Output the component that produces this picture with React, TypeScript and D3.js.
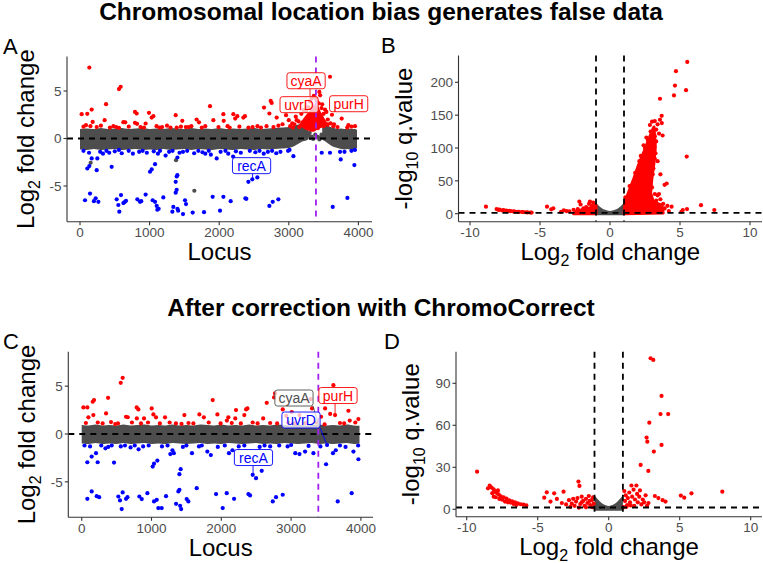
import React from "react";
import * as d3 from "d3";

// ---------------- DATA ----------------
// Panel A (before correction): locus vs log2 fold change
const bandALocus = [0, 100, 200, 300, 400, 500, 600, 700, 800, 900, 1000, 1100, 1200, 1300, 1400, 1500, 1600, 1700, 1800, 1900, 2000, 2100, 2200, 2300, 2400, 2500, 2600, 2700, 2800, 2900, 3000, 3050, 3100, 3150, 3200, 3250, 3280];
const bandAUpper = [1.0, 1.05, 1.0, 1.1, 1.0, 1.05, 1.1, 1.0, 1.05, 1.1, 1.0, 1.05, 1.0, 1.1, 1.05, 1.0, 1.1, 1.0, 1.05, 1.0, 1.1, 1.0, 1.05, 1.0, 1.05, 1.1, 1.0, 1.05, 1.1, 1.15, 1.2, 1.3, 1.4, 1.5, 1.5, 1.3, 1.0];
const bandALower = [-1.15, -1.2, -1.1, -1.2, -1.15, -1.1, -1.2, -1.15, -1.1, -1.2, -1.15, -1.2, -1.1, -1.2, -1.15, -1.1, -1.2, -1.1, -1.15, -1.2, -1.1, -1.15, -1.2, -1.1, -1.15, -1.2, -1.1, -1.15, -1.1, -1.05, -1.0, -0.9, -0.7, -0.5, -0.3, -0.2, -0.1];
const bandA2Locus = [3480, 3520, 3560, 3600, 3650, 3700, 3750, 3800, 3850, 3900, 3950, 3980];
const bandA2Upper = [1.1, 1.3, 1.35, 1.2, 1.1, 1.0, 1.05, 1.0, 1.05, 1.0, 1.0, 0.9];
const bandA2Lower = [-0.1, -0.3, -0.5, -0.7, -0.9, -1.0, -1.1, -1.15, -1.1, -1.2, -1.1, -1.0];
const clusterALocus = [3150, 3200, 3250, 3300, 3340, 3380, 3420, 3460, 3500, 3540, 3580];
const clusterATop = [1.5, 2.0, 2.5, 2.9, 3.3, 3.6, 3.4, 2.8, 2.3, 1.8, 1.4];
const clusterABottom = [1.2, 1.1, 0.9, 0.8, 0.7, 0.8, 1.0, 1.1, 1.2, 1.3, 1.2];

const redA: [number, number][] = [
  [134, 7.47], [24, 2.56], [105, 2.6], [168, 3.05], [182, 1.75], [86, 1.4], [150, 1.3], [50, 1.25],
  [374, 3.61], [354, 1.93], [560, 5.2], [584, 5.44], [623, 1.72], [650, 1.7], [560, 1.12], [790, 2.8],
  [814, 2.63], [790, 1.65], [820, 1.55], [943, 1.58], [920, 1.15], [991, 2.7], [1030, 2.2], [1054, 2.35],
  [1140, 1.15], [1375, 2.46], [1390, 1.15], [1470, 1.86], [1520, 1.2], [1676, 2.0], [1710, 1.7], [1868, 3.4],
  [1916, 1.93], [2060, 2.56], [2065, 1.86], [2203, 2.56], [2230, 2.1], [2260, 2.35], [2347, 2.2], [2370, 2.35],
  [2420, 1.15], [2644, 3.26], [2740, 3.96], [2754, 3.75], [2721, 2.63], [2826, 2.2], [2910, 1.5], [2960, 2.46],
  [3000, 1.93], [3060, 1.15], [3113, 1.93], [3439, 4.9], [3450, 4.55], [3592, 6.5], [3520, 3.05], [3540, 2.8],
  [3760, 2.1], [3856, 1.4], [3951, 1.3], [3840, 1.15],
  [240, 1.2], [300, 1.35], [430, 1.15], [480, 1.3], [520, 1.2], [700, 1.25], [870, 1.2], [1100, 1.3],
  [1180, 1.2], [1250, 1.35], [1300, 1.15], [1450, 1.25], [1560, 1.2], [1600, 1.3], [1750, 1.15], [1800, 1.3],
  [1990, 1.2], [2120, 1.3], [2150, 1.15], [2290, 1.25], [2480, 1.2], [2550, 1.3], [2600, 1.15], [2680, 1.3],
  [2780, 1.2], [2850, 1.35], [3020, 1.3], [3080, 1.5], [3640, 1.3], [3700, 1.2], [3900, 1.25],
  [3050, 1.6], [3100, 2.3], [3180, 2.6], [3210, 3.0], [3240, 2.0], [3280, 3.3], [3300, 3.9], [3330, 4.2],
  [3360, 4.5], [3390, 4.2], [3400, 3.9], [3430, 3.7], [3470, 3.2], [3500, 2.6], [3560, 2.0], [3600, 1.6],
  [3620, 2.5], [3650, 1.5], [3480, 3.6], [3200, 1.7], [3150, 1.2], [3260, 1.1], [3320, 1.0], [3420, 1.1],
  [3500, 1.3], [3560, 1.5], [3350, 1.9], [3250, 2.9], [3140, 1.8],
];
const blueA: [number, number][] = [
  [72, -6.5], [144, -5.8], [225, -6.3], [264, -6.67], [200, -6.6], [105, -3.16], [134, -2.9], [168, -2.1],
  [240, -3.33], [249, -2.1], [455, -2.98], [527, -6.4], [551, -7.0], [565, -7.7], [589, -5.96], [623, -6.8],
  [661, -6.56], [640, -6.7], [824, -6.4], [862, -6.67], [880, -6.6], [943, -5.9], [1006, -3.5], [1030, -3.26],
  [1078, -2.7], [1044, -6.5], [1078, -6.67], [1102, -7.1], [1111, -7.5], [1130, -7.4], [1197, -6.2], [1327, -7.7],
  [1341, -7.2], [1375, -5.7], [1389, -5.4], [1375, -4.56], [1389, -4.0], [1399, -3.86], [1400, -7.4], [1410, -7.6],
  [1480, -7.96], [1509, -6.5], [1523, -6.9], [1619, -7.8], [1782, -7.75], [1906, -6.14], [2012, -7.6], [2060, -6.14],
  [2165, -6.6], [2376, -6.3], [2390, -6.35], [2419, -4.56], [2476, -4.3], [2548, -4.1], [2721, -7.1], [2769, -6.67],
  [2850, -6.4], [3066, -1.86], [3473, -1.5], [3592, -1.5], [3736, -1.4], [3746, -2.2], [3842, -6.25], [3631, -7.2],
  [3942, -2.8], [1964, -2.1], [1400, -2.0],
  [50, -1.3], [130, -1.5], [290, -1.4], [330, -1.6], [380, -1.3], [420, -1.5], [500, -1.35], [560, -1.2],
  [600, -1.55], [700, -1.3], [760, -1.6], [850, -1.4], [900, -1.3], [960, -1.5], [1060, -1.35], [1120, -1.6],
  [1150, -1.3], [1230, -1.8], [1280, -1.4], [1330, -1.3], [1430, -1.5], [1480, -1.4], [1540, -1.3], [1640, -1.55],
  [1700, -1.3], [1760, -1.45], [1850, -1.3], [1880, -1.7], [2020, -1.4], [2090, -1.3], [2130, -1.6], [2240, -1.35],
  [2310, -1.5], [2440, -1.3], [2520, -1.45], [2580, -1.3], [2640, -1.6], [2700, -1.4], [2760, -1.3], [2820, -1.55],
  [2880, -1.4], [2990, -1.3], [3010, -1.2], [3900, -1.3], [3950, -1.2], [3800, -1.4], [2200, -1.9], [1800, -1.6],
];
const grayA: [number, number][] = [
  [153, -2.56], [1380, -2.28], [1643, -5.5], [3290, 0.3], [3310, 0.05], [3330, 0.2], [3350, -0.05],
  [3420, 0.15], [3440, -0.1], [3460, 0.1], [3380, 0.4], [3250, 0.5], [3300, 0.6], [3400, 0.2], [3470, 0.4],
];
const labelsA = [
  { gene: "cyaA", locus: 3305, lfc: 4.4, labLocus: 3248, labLfc: 6.08, color: "#FF0000" },
  { gene: "uvrD", locus: 3378, lfc: 3.0, labLocus: 3148, labLfc: 3.56, color: "#FF0000" },
  { gene: "purH", locus: 3600, lfc: 3.1, labLocus: 3860, labLfc: 3.66, color: "#FF0000" },
  { gene: "recA", locus: 2480, lfc: -4.4, labLocus: 2465, labLfc: -2.86, color: "#0000FF" },
];

// Panel C (after correction)
const bandCLocus = [0, 100, 200, 300, 400, 500, 600, 700, 800, 900, 1000, 1100, 1200, 1300, 1400, 1500, 1600, 1700, 1800, 1900, 2000, 2100, 2200, 2300, 2400, 2500, 2600, 2700, 2800, 2900, 3000, 3100, 3200, 3300, 3400, 3500, 3600, 3700, 3800, 3900, 3980];
const bandCUpper = [0.95, 0.9, 1.0, 0.9, 0.95, 0.9, 1.0, 0.9, 0.95, 1.0, 0.9, 0.95, 0.9, 1.0, 0.9, 0.95, 0.9, 1.0, 0.95, 0.9, 1.0, 0.9, 0.95, 0.9, 1.0, 0.9, 0.95, 0.9, 1.0, 0.95, 0.9, 1.0, 0.9, 0.95, 1.0, 0.9, 0.95, 0.9, 1.0, 0.9, 0.85];
const bandCLower = [-1.0, -1.05, -0.95, -1.05, -1.0, -1.05, -0.95, -1.05, -1.0, -0.95, -1.05, -1.0, -1.05, -0.95, -1.0, -1.05, -1.0, -0.95, -1.05, -1.0, -1.05, -0.95, -1.0, -1.05, -1.0, -0.95, -1.05, -1.0, -1.05, -0.95, -1.0, -1.05, -1.0, -0.95, -1.05, -1.0, -1.05, -1.0, -0.95, -1.05, -1.0];
const redC: [number, number][] = [
  [24, 2.78], [81, 2.78], [96, 1.74], [158, 3.37], [177, 3.54], [167, 1.98], [349, 2.15], [378, 3.78],
  [559, 5.35], [587, 5.87], [635, 1.8], [660, 1.75], [480, 1.04], [788, 2.78], [812, 2.57], [790, 1.63],
  [893, 1.63], [1003, 2.67], [1027, 2.05], [1065, 1.74], [1194, 1.74], [1471, 1.98], [1430, 1.05], [1686, 2.05],
  [1750, 1.74], [1877, 3.54], [1944, 2.05], [2101, 1.74], [2080, 1.4], [2211, 2.5], [2200, 1.63], [2355, 2.57],
  [2374, 2.67], [2330, 1.98], [2651, 3.26], [2756, 3.82], [2770, 4.24], [2600, 1.63], [2880, 2.57], [2930, 1.9],
  [3009, 2.29], [3120, 1.98], [3281, 3.65], [3300, 2.67], [3430, 1.8], [3487, 2.67], [3606, 5.1], [3630, 1.98],
  [3560, 2.1], [3821, 2.43], [3964, 1.56], [3840, 1.4], [3480, 1.0],
  [60, 1.15], [230, 1.2], [300, 1.1], [420, 1.25], [520, 1.1], [720, 1.2], [850, 1.1], [950, 1.2],
  [1120, 1.1], [1260, 1.2], [1350, 1.1], [1530, 1.15], [1600, 1.1], [1820, 1.2], [1990, 1.1], [2150, 1.15],
  [2280, 1.1], [2450, 1.2], [2520, 1.1], [2700, 1.15], [2800, 1.1], [2960, 1.2], [3050, 1.1], [3200, 1.15],
  [3360, 1.2], [3700, 1.15], [3760, 1.1], [3920, 1.2],
];
const blueC: [number, number][] = [
  [81, -2.95], [143, -2.36], [229, -2.95], [205, -2.0], [81, -6.77], [143, -6.0], [215, -6.5], [250, -6.6],
  [463, -2.99], [525, -6.53], [549, -6.94], [573, -7.85], [587, -6.1], [635, -6.77], [655, -6.6], [826, -6.53],
  [860, -6.8], [941, -6.18], [1017, -3.4], [1036, -3.1], [1084, -2.78], [1036, -7.05], [1075, -6.88], [1098, -7.74],
  [1146, -7.74], [1208, -6.5], [1352, -7.3], [1385, -6.0], [1400, -5.83], [1400, -4.2], [1418, -3.68], [1410, -7.5],
  [1425, -7.85], [1504, -6.8], [1528, -7.05], [1648, -5.66], [1925, -6.28], [2020, -7.74], [2078, -6.18], [2183, -6.77],
  [2388, -6.28], [2412, -6.42], [2450, -4.27], [2498, -4.62], [2579, -3.85], [2737, -7.05], [2784, -6.6], [2880, -6.35],
  [3501, -3.16], [3668, -7.05], [3868, -6.18], [3964, -2.64], [3893, -1.84], [3600, -2.0], [3640, -1.7], [3320, -2.0],
  [3200, -1.84], [3060, -2.0], [3120, -2.1], [2110, -2.0], [2160, -1.7], [1800, -1.84], [1850, -2.2], [1580, -2.0],
  [1320, -2.0], [1300, -1.7], [1270, -2.1], [815, -1.6], [340, -1.5], [3515, -1.15],
  [40, -1.2], [120, -1.3], [280, -1.2], [380, -1.35], [430, -1.2], [560, -1.3], [620, -1.2], [700, -1.4],
  [760, -1.2], [880, -1.3], [960, -1.2], [1150, -1.3], [1230, -1.2], [1450, -1.35], [1500, -1.2], [1680, -1.3],
  [1720, -1.2], [1950, -1.35], [2050, -1.2], [2250, -1.3], [2330, -1.2], [2550, -1.35], [2620, -1.2], [2700, -1.3],
  [2830, -1.2], [2950, -1.3], [3000, -1.15], [3250, -1.25], [3420, -1.3], [3700, -1.2], [3780, -1.35], [3960, -1.2],
];
const labelsC = [
  { gene: "cyaA", locus: 3415, lfc: 0.4, labLocus: 3041, labLfc: 3.76, color: "#4D4D4D" },
  { gene: "uvrD", locus: 3515, lfc: -1.15, labLocus: 3142, labLfc: 1.46, color: "#0000FF" },
  { gene: "purH", locus: 3630, lfc: 1.98, labLocus: 3672, labLfc: 4.02, color: "#FF0000" },
  { gene: "recA", locus: 2455, lfc: -4.4, labLocus: 2461, labLfc: -2.46, color: "#0000FF" },
];

// Panel B volcano (before)
const grayBLfc = [-1, -0.8, -0.6, -0.4, -0.2, 0, 0.2, 0.4, 0.6, 0.8, 1];
const grayBUpper = [14, 10, 6.5, 4, 2.5, 2, 2.5, 4, 6.5, 10, 14];
const wedgeBLfc = [1.0, 1.07, 1.3, 1.67, 2.0, 2.38, 2.62, 2.86, 3.05, 3.14, 3.24, 3.14, 2.98, 2.9, 3.1, 3.7, 3.8, 1.0];
const wedgeBQ = [0, 15.8, 31, 51.5, 72, 92, 105, 118, 128, 132, 102, 77, 51.5, 31, 18, 13, 1, 0];
const leftBLfc = [-2.6, -2.2, -1.8, -1.4, -1.0, -1.0, -2.6];
const leftBQ = [1, 5, 7, 9, 11, 0, 0];
const redB: [number, number][] = [
  [-8.86, 10.7], [-8.1, 7.1], [-7.9, 6.2], [-7.6, 5.3], [-7.4, 4.6], [-7.1, 3.9], [-6.8, 3.3], [-6.5, 2.8],
  [-6.2, 2.4], [-5.9, 2.0], [-5.6, 1.7], [-7.95, 5.8], [-7.7, 5.0], [-7.2, 4.2], [-6.9, 3.5], [-6.6, 3.0],
  [-6.3, 2.6], [-6.0, 2.2], [-5.7, 1.8],
  [-4.5, 10.7], [-4.2, 6.6], [-4.05, 8.2], [-3.5, 3], [-3.3, 5], [-3.1, 4], [-2.9, 3.6], [-2.6, 6],
  [-2.19, 18.4], [-2.1, 14], [-1.9, 8], [-1.7, 10], [-1.5, 15], [-1.43, 18.4], [-1.3, 12], [-1.2, 17],
  [-1.1, 9], [-2.4, 3], [-2.3, 7], [-1.05, 13],
  [5.52, 231], [4.71, 217], [4.64, 195], [4.57, 180], [5.43, 188], [3.57, 175], [3.69, 149], [3.57, 143],
  [3.2, 141], [3.4, 136], [3.7, 138], [3.76, 119], [3.3, 128], [3.5, 122], [3.2, 118], [3.3, 110],
  [5.48, 87], [3.1, 69], [3.4, 80], [3.9, 44], [4.05, 46], [3.6, 60], [3.5, 30], [4.4, 10.7], [5.1, 3],
  [5.2, 5.6], [5.5, 7], [6.5, 13], [7.45, 5.6], [3.2, 30], [3.4, 28], [3.6, 22], [3.8, 15], [4.1, 12],
  [3.9, 8], [3.3, 20], [4.2, 4],
  [1.1, 25], [1.4, 42], [1.8, 62], [2.1, 80], [2.5, 100], [2.7, 112], [2.9, 125], [2.85, 135], [3.0, 140],
  [3.25, 92], [3.2, 84], [3.05, 60], [3.0, 40], [1.2, 5], [1.5, 9], [2.2, 88], [2.4, 104], [2.6, 116],
];

// Panel D volcano (after)
const grayDLfc = [-1, -0.8, -0.6, -0.4, -0.2, 0, 0.2, 0.4, 0.6, 0.8, 1];
const grayDUpper = [9, 6.5, 4.3, 2.8, 1.8, 1.3, 1.8, 2.8, 4.3, 6.5, 9];
const redD: [number, number][] = [
  [-9.27, 26.9], [-8.38, 16.9], [-8.25, 15.5], [-8.1, 14.3], [-8.0, 12.6], [-7.9, 11.8], [-7.75, 10.7],
  [-7.6, 9.3], [-7.4, 8.6], [-7.2, 7.6], [-7.0, 6.4], [-6.8, 5.7], [-6.6, 5.0], [-6.4, 4.3], [-6.2, 3.6],
  [-6.0, 3.3], [-5.8, 2.9], [-8.1, 9.0], [-7.95, 8.6], [-7.7, 7.4], [-7.5, 6.9], [-7.3, 5.5], [-7.1, 5.0],
  [-6.9, 4.8], [-6.7, 3.8], [-6.5, 3.1], [-8.2, 11.5], [-7.8, 13.5], [-8.5, 15.0],
  [-4.54, 8.3], [-4.36, 12.1], [-4.1, 5.5], [-3.84, 11.4], [-3.65, 7.4], [-3.18, 12.6], [-3.3, 4.5],
  [-3.0, 3.5], [-2.8, 6.5], [-2.6, 4.0], [-2.13, 19.8], [-2.06, 16.7], [-2.5, 7.5], [-2.4, 2.5],
  [-2.3, 5.5], [-2.2, 8], [-2.0, 3.8], [-1.9, 9], [-1.8, 6], [-1.7, 2.5], [-1.6, 7.5], [-1.5, 4.5],
  [-1.4, 9.5], [-1.3, 3], [-1.2, 6.5], [-1.1, 8.5], [-1.05, 4], [-1.15, 1.5], [-1.6, 1.5], [-2.1, 1.2],
  [-2.7, 1.8], [-1.9, 5], [-1.35, 6],
  [1.1, 13], [1.15, 6], [1.2, 10], [1.3, 3], [1.35, 8], [1.45, 12], [1.5, 5], [1.6, 17], [1.65, 9],
  [1.75, 14], [1.8, 2.5], [1.85, 7], [1.95, 17], [2.0, 11], [2.05, 5], [2.15, 9], [2.2, 13.5], [2.3, 3.5],
  [2.4, 7], [2.5, 5], [2.6, 10], [2.7, 2.5], [2.8, 4.5], [1.05, 1.5], [1.25, 1.8], [1.55, 2.8],
  [2.25, 31.7], [2.79, 27.4], [2.67, 51.2], [2.72, 48.3], [2.86, 61.9], [2.95, 107.9], [3.14, 106.7],
  [3.72, 81], [3.65, 68], [4.19, 68], [3.72, 46], [3.18, 41.2], [3.25, 9.5], [3.5, 8], [3.8, 6.5],
  [4.0, 5.5], [5.08, 9.8], [5.32, 8.3], [5.83, 11.4], [8.0, 12.6],
];

const locusTicks = [0, 1000, 2000, 3000, 4000];
const lfcTicksA = [-5, 0, 5];
const lfcTicksVolcano = [-10, -5, 0, 5, 10];
const qTicksB = [0, 50, 100, 150, 200];
const qTicksD = [0, 30, 60, 90];

// ---------------- STYLE ----------------
const FONT = "'Liberation Sans', Arial, Helvetica, sans-serif";
const RED = "#FF0000";
const BLUE = "#0000FF";
const GRAY = "#4D4D4D";
const PT = 2.1;

function Axes({ frame, x, y, xTicks, yTicks, xTitle, yTitle, yTitleX, letter, letterX }: any) {
  return (
    <g>
      <line x1={frame.left} x2={frame.left} y1={frame.top} y2={frame.bottom} stroke="#333" strokeWidth={1.1} />
      <line x1={frame.left} x2={frame.right} y1={frame.bottom} y2={frame.bottom} stroke="#333" strokeWidth={1.1} />
      {xTicks.map((t: number) => (
        <g key={"x" + t}>
          <line x1={x(t)} x2={x(t)} y1={frame.bottom} y2={frame.bottom + 3.5} stroke="#333" strokeWidth={1.1} />
          <text x={x(t)} y={frame.bottom + 15.5} textAnchor="middle" fontSize={13.5} fill="#4D4D4D" fontFamily={FONT}>
            {t < 0 ? "-" + Math.abs(t) : t}
          </text>
        </g>
      ))}
      {yTicks.map((t: number) => (
        <g key={"y" + t}>
          <line x1={frame.left - 3.5} x2={frame.left} y1={y(t)} y2={y(t)} stroke="#333" strokeWidth={1.1} />
          <text x={frame.left - 5.5} y={y(t)} dy="0.36em" textAnchor="end" fontSize={13.5} fill="#4D4D4D" fontFamily={FONT}>
            {t < 0 ? "-" + Math.abs(t) : t}
          </text>
        </g>
      ))}
      <text x={(frame.left + frame.right) / 2} y={frame.bottom + 38.5} textAnchor="middle" fontSize={24} fill="#000" fontFamily={FONT}>
        {xTitle}
      </text>
      <text
        transform={`translate(${yTitleX},${(frame.top + frame.bottom) / 2}) rotate(-90)`}
        textAnchor="middle"
        fontSize={24}
        fill="#000"
        fontFamily={FONT}
      >
        {yTitle}
      </text>
      <text x={letterX} y={frame.top - 3} fontSize={22} fill="#000" fontFamily={FONT}>
        {letter}
      </text>
    </g>
  );
}

const Log2 = (
  <>
    Log<tspan fontSize={16} dy={6}>2</tspan>
    <tspan dy={-6}> fold change</tspan>
  </>
);
const Log10 = (
  <>
    -log<tspan fontSize={16} dy={6}>10</tspan>
    <tspan dy={-6}> q.value</tspan>
  </>
);

function Label({ lab, x, y }: any) {
  const cx = x(lab.labLocus);
  const cy = y(lab.labLfc);
  const w = lab.gene.length * 7.8 + 7;
  const h = 16;
  const px = x(lab.locus);
  const py = y(lab.lfc);
  const ex = Math.max(cx - w / 2, Math.min(cx + w / 2, px));
  const ey = Math.max(cy - h / 2, Math.min(cy + h / 2, py));
  return (
    <g>
      <line x1={ex} y1={ey} x2={px} y2={py} stroke={lab.color} strokeWidth={0.9} />
      <rect x={cx - w / 2} y={cy - h / 2} width={w} height={h} rx={2.5} fill="#fff" fillOpacity={0.75} stroke={lab.color} strokeWidth={0.9} />
      <text x={cx} y={cy} dy="0.36em" textAnchor="middle" fontSize={14} fill={lab.color} fontFamily={FONT}>
        {lab.gene}
      </text>
    </g>
  );
}

function LocusPanel({ frame, zeroX, k1000, zeroY, kUnit, bands, cluster, red, blue, gray, labels, letter }: any) {
  const x = d3.scaleLinear().domain([0, 1000]).range([zeroX, zeroX + k1000]);
  const y = d3.scaleLinear().domain([0, 1]).range([zeroY, zeroY - kUnit]);
  const area = d3
    .area<number>()
    .x((d: any) => x(d[0]))
    .y0((d: any) => y(d[2]))
    .y1((d: any) => y(d[1]))
    .curve(d3.curveCatmullRom);
  return (
    <g>
      {bands.map((b: any, i: number) => (
        <path key={i} d={area(b.locus.map((l: number, j: number) => [l, b.upper[j], b.lower[j]]) as any) || ""} fill={GRAY} />
      ))}
      {gray.map((d: number[], i: number) => (
        <circle key={"g" + i} cx={x(d[0])} cy={y(d[1])} r={PT} fill={GRAY} />
      ))}
      {blue.map((d: number[], i: number) => (
        <circle key={"b" + i} cx={x(d[0])} cy={y(d[1])} r={PT} fill={BLUE} />
      ))}
      {cluster && (
        <path d={area(cluster.locus.map((l: number, j: number) => [l, cluster.top[j], cluster.bottom[j]]) as any) || ""} fill={RED} />
      )}
      {red.map((d: number[], i: number) => (
        <circle key={"r" + i} cx={x(d[0])} cy={y(d[1])} r={PT} fill={RED} />
      ))}
      <line x1={frame.left} x2={frame.right} y1={y(0)} y2={y(0)} stroke="#000" strokeWidth={1.8} strokeDasharray="6,5" />
      <line x1={x(3390)} x2={x(3390)} y1={frame.top} y2={frame.bottom} stroke="#A020F0" strokeWidth={1.8} strokeDasharray="6,5" />
      {labels.map((lab: any) => (
        <Label key={lab.gene} lab={lab} x={x} y={y} />
      ))}
      <Axes
        frame={frame}
        x={x}
        y={y}
        xTicks={locusTicks}
        yTicks={lfcTicksA}
        xTitle="Locus"
        yTitle={Log2}
        yTitleX={frame.left - 33}
        letter={letter}
        letterX={3}
      />
    </g>
  );
}

function VolcanoPanel({ frame, zeroX, kx, zeroY, ky, grayLfc, grayUpper, polys, red, yTicks, letter, letterX, yTitleX }: any) {
  const x = d3.scaleLinear().domain([0, 1]).range([zeroX, zeroX + kx]);
  const y = d3.scaleLinear().domain([0, 1]).range([zeroY, zeroY - ky]);
  const uArea = d3
    .area<number>()
    .x((d: any) => x(d[0]))
    .y0(() => y(0) + 1.5)
    .y1((d: any) => y(d[1]) - 1.5)
    .curve(d3.curveCatmullRom);
  const poly = d3
    .line<number>()
    .x((d: any) => x(d[0]))
    .y((d: any) => y(d[1]));
  return (
    <g>
      <path d={uArea(grayLfc.map((l: number, i: number) => [l, grayUpper[i]]) as any) || ""} fill={GRAY} />
      {polys.map((p: any, i: number) => (
        <path key={i} d={(poly(p.lfc.map((l: number, j: number) => [l, p.q[j]]) as any) || "") + "Z"} fill={RED} stroke={RED} strokeWidth={3} strokeLinejoin="round" />
      ))}
      {red.map((d: number[], i: number) => (
        <circle key={i} cx={x(d[0])} cy={y(d[1])} r={PT} fill={RED} />
      ))}
      <line x1={x(-1)} x2={x(-1)} y1={frame.top} y2={frame.bottom} stroke="#000" strokeWidth={1.8} strokeDasharray="6,5" />
      <line x1={x(1)} x2={x(1)} y1={frame.top} y2={frame.bottom} stroke="#000" strokeWidth={1.8} strokeDasharray="6,5" />
      <line x1={frame.left} x2={frame.right} y1={y(1.3)} y2={y(1.3)} stroke="#000" strokeWidth={1.8} strokeDasharray="6,5" />
      <Axes
        frame={frame}
        x={x}
        y={y}
        xTicks={lfcTicksVolcano}
        yTicks={yTicks}
        xTitle={Log2}
        yTitle={Log10}
        yTitleX={yTitleX}
        letter={letter}
        letterX={letterX}
      />
    </g>
  );
}

export default function App() {
  return (
    <svg width={763} height={563} style={{ position: "absolute", left: 0, top: 0, background: "#fff" }}>
      <rect width={763} height={563} fill="#fff" />
      <text x={381} y={20} textAnchor="middle" fontSize={24.5} fontWeight="bold" fontFamily={FONT}>
        Chromosomal location bias generates false data
      </text>
      <text x={381} y={316} textAnchor="middle" fontSize={24.5} fontWeight="bold" fontFamily={FONT}>
        After correction with ChromoCorrect
      </text>
      <LocusPanel
        frame={{ left: 67, right: 372, top: 56.5, bottom: 221.7 }}
        zeroX={80}
        k1000={69.6}
        zeroY={138.5}
        kUnit={9.5}
        bands={[
          { locus: bandALocus, upper: bandAUpper, lower: bandALower },
          { locus: bandA2Locus, upper: bandA2Upper, lower: bandA2Lower },
        ]}
        cluster={{ locus: clusterALocus, top: clusterATop, bottom: clusterABottom }}
        red={redA}
        blue={blueA}
        gray={grayA}
        labels={labelsA}
        letter="A"
      />
      <LocusPanel
        frame={{ left: 68.3, right: 373, top: 351.7, bottom: 517.3 }}
        zeroX={81.7}
        k1000={69.8}
        zeroY={434}
        kUnit={9.57}
        bands={[{ locus: bandCLocus, upper: bandCUpper, lower: bandCLower }]}
        cluster={null}
        red={redC}
        blue={blueC}
        gray={[]}
        labels={labelsC}
        letter="C"
      />
      <VolcanoPanel
        frame={{ left: 458.5, right: 762, top: 55.5, bottom: 221.7 }}
        zeroX={610}
        kx={14}
        zeroY={213.7}
        ky={0.657}
        grayLfc={grayBLfc}
        grayUpper={grayBUpper}
        polys={[
          { lfc: wedgeBLfc, q: wedgeBQ },
          { lfc: leftBLfc, q: leftBQ },
        ]}
        red={redB}
        yTicks={qTicksB}
        letter="B"
        letterX={381}
        yTitleX={412}
      />
      <VolcanoPanel
        frame={{ left: 456, right: 762, top: 351.7, bottom: 516.7 }}
        zeroX={608.7}
        kx={14.2}
        zeroY={509.3}
        ky={1.4}
        grayLfc={grayDLfc}
        grayUpper={grayDUpper}
        polys={[]}
        red={redD}
        yTicks={qTicksD}
        letter="D"
        letterX={384}
        yTitleX={419}
      />
    </svg>
  );
}
